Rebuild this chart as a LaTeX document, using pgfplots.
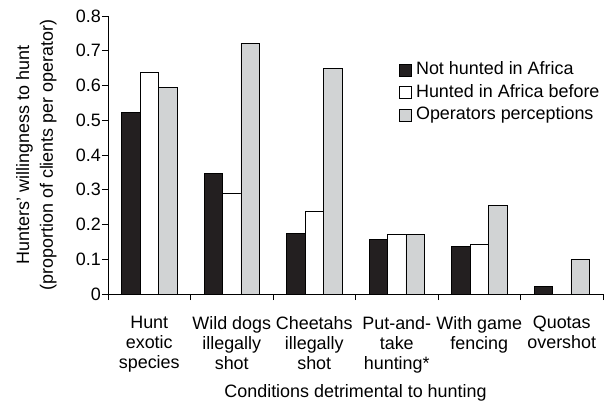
\documentclass[border=0pt]{standalone}
\usepackage{pgfplots}
\pgfplotsset{compat=1.18}
\usetikzlibrary{calc}
\usepackage{fontspec}
\setmainfont{Liberation Sans}
\definecolor{barblack}{HTML}{231F20}
\definecolor{bargray}{HTML}{D1D3D4}
\begin{document}
\fontsize{18}{20}\selectfont
\begin{tikzpicture}
\begin{axis}[name=ax, scale only axis, width=495bp, height=278bp,
  xmin=-0.5, xmax=5.5, ymin=0, ymax=0.8,
  axis x line=bottom, axis y line=left,
  axis line style={-, line width=0.8pt},
  every tick/.style={black, line width=0.8pt},
  tick align=outside,
  major tick length=6bp,
  /pgf/number format/assume math mode=true,
  ytick={0,0.1,0.2,0.3,0.4,0.5,0.6,0.7,0.8},
  yticklabels={0,0.1,0.2,0.3,0.4,0.5,0.6,0.7,0.8},
  yticklabel style={font=\fontsize{18}{20}\selectfont, inner sep=1bp},
  xtick={0,1,2,3,4,5},
  x tick style={draw=none},
  xticklabels={{Hunt\\exotic\\species},{Wild dogs\\illegally\\shot},{Cheetahs\\illegally\\shot},{Put-and-\\take\\hunting*},{With game\\fencing},{Quotas\\overshot}},
  xticklabel style={align=center, font=\fontsize{18}{20.3}\selectfont, yshift=-10bp},
  extra x ticks={-0.5,0.5,1.5,2.5,3.5,4.5,5.5},
  extra x tick labels={},
  extra x tick style={x tick style={draw=black}},
  ylabel={Hunters' willingness to hunt\\(proportion of clients per operator)},
  ylabel style={align=center, font=\fontsize{18}{24}\selectfont, yshift=12bp},
  xlabel={Conditions detrimental to hunting},
  xlabel style={font=\fontsize{18}{20}\selectfont, at={(axis description cs:0.5,0)}, anchor=center, yshift=-99bp},
  legend style={at={(0.587,0.846)}, anchor=north west, draw=none, fill=none, inner sep=0pt,
    font=\fontsize{18}{20}\selectfont, row sep=0.5bp,
    nodes={text height=13bp, text depth=4bp, inner sep=2.5bp}},
  legend cell align=left,
  mybar/.style={ybar, bar width=0.224, draw=black, line width=0.8pt,
    legend image code/.code={\draw[##1] (0bp,-6bp) rectangle (12bp,6bp);}},
]
\addplot[mybar, bar shift=-0.224, fill=barblack] coordinates {(0,0.522) (1,0.348) (2,0.173) (3,0.156) (4,0.137) (5,0.022)};
\addlegendentry{\hspace{2bp}Not hunted in Africa}
\addplot[mybar, bar shift=0, fill=white] coordinates {(0,0.639) (1,0.290) (2,0.239) (3,0.171) (4,0.142) (5,0)};
\addlegendentry{\hspace{2bp}Hunted in Africa before}
\addplot[mybar, bar shift=0.224, fill=bargray] coordinates {(0,0.595) (1,0.722) (2,0.648) (3,0.171) (4,0.255) (5,0.100)};
\addlegendentry{\hspace{2bp}Operators perceptions}
\end{axis}
\pgfresetboundingbox
\useasboundingbox ($(ax.south west)+(-108bp,-110bp)$) rectangle ($(ax.north east)+(10bp,16bp)$);
\end{tikzpicture}
\end{document}
